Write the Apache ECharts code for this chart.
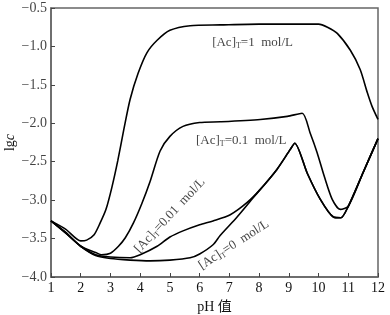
<!DOCTYPE html>
<html>
<head>
<meta charset="utf-8">
<script src="https://cdn.jsdelivr.net/npm/echarts@6/dist/echarts.min.js"></script>
<style>
  html, body { margin: 0; padding: 0; background: #fff; }
  #chart { width: 390px; height: 315px; }
</style>
</head>
<body>
<div id="chart"></div>
<script>
// pH values and lg c for each total acetate concentration
var ph1 = [1, 1.5, 2.0, 2.2, 2.45, 2.65, 2.85, 3.05, 3.25, 3.45, 3.66, 3.93, 4.23, 4.57, 5.0, 5.68, 6.7, 8.0, 10.0, 10.3, 10.63, 11.07, 11.4, 11.64, 11.8, 12];
var lg1 = [-3.27, -3.38, -3.53, -3.52, -3.45, -3.3, -3.12, -2.83, -2.48, -2.08, -1.69, -1.35, -1.08, -0.92, -0.79, -0.73, -0.72, -0.71, -0.71, -0.75, -0.83, -1.05, -1.3, -1.6, -1.78, -1.95];

var ph01 = [1, 1.5, 2.0, 2.5, 2.7, 3.0, 3.27, 3.5, 3.77, 4.06, 4.33, 4.67, 5.0, 5.44, 6.0, 6.7, 8.04, 8.95, 9.45, 9.72, 9.95, 10.2, 10.46, 10.73, 11.0, 11.5, 12];
var lg01 = [-3.27, -3.42, -3.6, -3.68, -3.71, -3.69, -3.6, -3.49, -3.3, -3.04, -2.76, -2.36, -2.17, -2.04, -1.99, -1.98, -1.95, -1.91, -1.87, -2.13, -2.38, -2.7, -2.99, -3.12, -3.08, -2.64, -2.2];

var ph001 = [1, 1.5, 2.0, 2.5, 3.0, 3.66, 4.0, 4.57, 5.0, 5.44, 6.0, 6.45, 7.03, 7.6, 8.04, 8.6, 9.05, 9.2, 9.62, 10.06, 10.5, 10.75, 11.0, 11.5, 12];
var lg001 = [-3.27, -3.43, -3.6, -3.71, -3.74, -3.75, -3.71, -3.6, -3.48, -3.4, -3.32, -3.27, -3.19, -3.03, -2.86, -2.6, -2.34, -2.26, -2.65, -2.99, -3.22, -3.23, -3.08, -2.64, -2.2];

var ph0 = [1, 1.5, 2.0, 2.5, 3.0, 3.66, 4.33, 5.0, 5.68, 6.0, 6.45, 6.69, 7.26, 7.8, 8.04, 8.6, 9.05, 9.2, 9.62, 10.06, 10.5, 10.75, 11.0, 11.5, 12];
var lg0 = [-3.27, -3.43, -3.6, -3.72, -3.76, -3.78, -3.79, -3.78, -3.75, -3.7, -3.58, -3.46, -3.22, -2.97, -2.86, -2.6, -2.34, -2.26, -2.65, -2.99, -3.22, -3.23, -3.08, -2.64, -2.2];

// curve labels: concentration text, pH, lg c, rotation
var labelConc = ["1", "0.1", "0.01", "0"];
var labelPh = [7.78, 7.4, 5.0, 7.15];
var labelLg = [-0.95, -2.22, -3.2, -3.58];
var labelRot = [0, 0, 47, 33];

var xTicks = [1, 12, 1];
var yTicks = [-4, -0.5, 0.5];
var yTickValues = [-4.0, -3.5, -3.0, -2.5, -2.0, -1.5, -1.0, -0.5];

function pairs(xs, ys) {
    return xs.map(function (x, i) { return [x, ys[i]]; });
}

var serif = "Liberation Serif";

var chart = echarts.init(document.getElementById("chart"));

var curveSeries = [[ph1, lg1], [ph01, lg01], [ph001, lg001], [ph0, lg0]].map(function (c) {
    return {
        type: "line",
        data: pairs(c[0], c[1]),
        smooth: 0.25,
        showSymbol: false,
        lineStyle: { color: "#000", width: 1.6 },
        silent: true
    };
});

// y tick labels, anchored on the y axis (pH = min)
var yLabelSeries = {
    type: "scatter",
    symbolSize: 0,
    silent: true,
    clip: false,
    data: yTickValues.map(function (v) { return [xTicks[0], v]; }),
    label: {
        show: true,
        position: "left",
        distance: 4,
        color: "#111",
        fontSize: 14,
        fontFamily: serif,
        formatter: function (p) {
            return p.value[1].toFixed(1).replace("-", "\u2212");
        }
    }
};

chart.setOption({
    animation: false,
    grid: {
        left: 51,
        right: 12,
        top: 8,
        bottom: 38,
        outerBoundsMode: "none",
        show: true,
        borderColor: "#666",
        borderWidth: 1.5
    },
    xAxis: {
        type: "value",
        min: xTicks[0],
        max: xTicks[1],
        interval: xTicks[2],
        name: "pH 值",
        nameLocation: "middle",
        nameGap: 23,
        nameMoveOverlap: false,
        nameTextStyle: { color: "#111", fontSize: 14, fontFamily: "Liberation Serif, Noto Sans CJK SC" },
        axisLine: { lineStyle: { color: "#666", width: 1.5 } },
        axisTick: { inside: true, length: 4, lineStyle: { color: "#444" } },
        axisLabel: { color: "#111", fontSize: 14, fontFamily: serif, margin: 4 },
        splitLine: { show: false }
    },
    yAxis: {
        type: "value",
        min: yTicks[0],
        max: yTicks[1],
        interval: yTicks[2],
        name: "{n|lg}{i|c}",
        nameLocation: "middle",
        nameGap: 34,
        nameRotate: 90,
        nameMoveOverlap: false,
        nameTextStyle: {
            rich: {
                n: { color: "#111", fontSize: 14, fontFamily: serif },
                i: { color: "#111", fontSize: 14, fontFamily: serif, fontStyle: "italic" }
            }
        },
        axisLine: { lineStyle: { color: "#666", width: 1.5 } },
        axisTick: { inside: true, length: 4, lineStyle: { color: "#444" } },
        axisLabel: { show: false },
        splitLine: { show: false }
    },
    series: curveSeries.concat([yLabelSeries, {
        type: "scatter",
        symbolSize: 0,
        silent: true,
        data: labelConc.map(function (c, i) {
            return {
                value: [labelPh[i], labelLg[i]],
                label: {
                    show: true,
                    position: "inside",
                    rotate: labelRot[i],
                    formatter: "{a|[Ac]}{s|T}{a|=" + c + "  mol/L}",
                    rich: {
                        a: { color: "#111", fontSize: 13, fontFamily: serif, lineHeight: 15 },
                        s: { color: "#111", fontSize: 8, fontFamily: serif, verticalAlign: "bottom", lineHeight: 11 }
                    }
                }
            };
        })
    }])
});
</script>
</body>
</html>
